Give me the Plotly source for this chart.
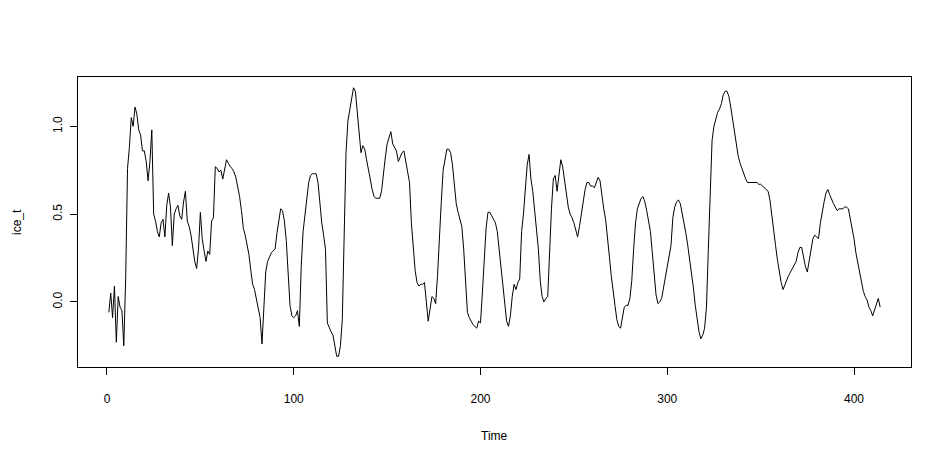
import plotly.graph_objects as go

time_index = list(range(1, 415))

ice_t = [
    -0.06, 0.05, -0.09, 0.09, -0.23, 0.03, -0.03, -0.05, -0.25, 0.13,
    0.76, 0.88, 1.05, 1.00, 1.11, 1.07, 0.98, 0.95, 0.86, 0.86,
    0.80, 0.69, 0.80, 0.98, 0.50, 0.46, 0.40, 0.37, 0.45, 0.47,
    0.37, 0.55, 0.62, 0.54, 0.32, 0.50, 0.53, 0.55, 0.49, 0.47,
    0.57, 0.63, 0.46, 0.43, 0.38, 0.30, 0.23, 0.19, 0.30, 0.51,
    0.36, 0.29, 0.23, 0.29, 0.27, 0.46, 0.48, 0.77, 0.76, 0.74,
    0.75, 0.70, 0.76, 0.81, 0.79, 0.77, 0.76, 0.74, 0.71, 0.66,
    0.60, 0.52, 0.42, 0.38, 0.32, 0.27, 0.18, 0.10, 0.07, 0.02,
    -0.05, -0.09, -0.24, 0.00, 0.17, 0.23, 0.26, 0.28, 0.29, 0.30,
    0.39, 0.46, 0.53, 0.52, 0.46, 0.35, 0.18, -0.02, -0.08, -0.09,
    -0.08, -0.05, -0.14, 0.20, 0.40, 0.50, 0.62, 0.68, 0.72, 0.73,
    0.73, 0.73, 0.68, 0.55, 0.45, 0.38, 0.30, -0.12, -0.15, -0.17,
    -0.19, -0.24, -0.31, -0.31, -0.25, -0.10, 0.30, 0.85, 1.03, 1.10,
    1.16, 1.22, 1.20, 1.07, 0.94, 0.85, 0.89, 0.87, 0.81, 0.75,
    0.70, 0.64, 0.60, 0.59, 0.59, 0.59, 0.63, 0.74, 0.82, 0.90,
    0.94, 0.97, 0.90, 0.88, 0.86, 0.80, 0.83, 0.85, 0.86, 0.80,
    0.74, 0.68, 0.45, 0.30, 0.18, 0.11, 0.09, 0.10, 0.10, 0.11,
    -0.02, -0.11, -0.04, 0.03, 0.02, -0.01, 0.15, 0.40, 0.57, 0.75,
    0.82, 0.87, 0.87, 0.85, 0.78, 0.67, 0.56, 0.51, 0.47, 0.43,
    0.30, 0.10, -0.06, -0.09, -0.11, -0.13, -0.14, -0.15, -0.11, -0.12,
    0.05, 0.25, 0.42, 0.51, 0.51, 0.49, 0.47, 0.45, 0.40, 0.30,
    0.18, 0.07, -0.03, -0.11, -0.14, -0.08, 0.03, 0.10, 0.07, 0.11,
    0.13, 0.40, 0.50, 0.65, 0.78, 0.84, 0.70, 0.63, 0.53, 0.42,
    0.30, 0.12, 0.03, 0.00, 0.02, 0.03, 0.30, 0.53, 0.70, 0.72,
    0.63, 0.74, 0.81, 0.77, 0.69, 0.60, 0.54, 0.50, 0.48, 0.45,
    0.41, 0.37, 0.43, 0.51, 0.58, 0.64, 0.68, 0.68, 0.66, 0.66,
    0.65, 0.68, 0.71, 0.69, 0.60, 0.53, 0.47, 0.38, 0.26, 0.15,
    0.05, -0.02, -0.10, -0.14, -0.15, -0.08, -0.03, -0.02, -0.02, 0.02,
    0.12, 0.30, 0.45, 0.53, 0.56, 0.59, 0.60, 0.57, 0.52, 0.47,
    0.40, 0.28, 0.15, 0.04, -0.01, 0.00, 0.02, 0.08, 0.15, 0.21,
    0.25, 0.32, 0.48, 0.54, 0.57, 0.58, 0.56, 0.51, 0.45, 0.39,
    0.32, 0.24, 0.18, 0.08, -0.02, -0.10, -0.17, -0.21, -0.19, -0.15,
    -0.03, 0.30, 0.60, 0.92, 1.00, 1.05, 1.08, 1.10, 1.13, 1.18,
    1.20, 1.20, 1.17, 1.11, 1.04, 0.97, 0.90, 0.83, 0.79, 0.76,
    0.72, 0.70, 0.68, 0.68, 0.68, 0.68, 0.68, 0.68, 0.67, 0.67,
    0.66, 0.65, 0.64, 0.63, 0.58, 0.48, 0.40, 0.32, 0.24, 0.16,
    0.11, 0.07, 0.10, 0.12, 0.15, 0.17, 0.19, 0.21, 0.23, 0.28,
    0.31, 0.31, 0.25, 0.20, 0.17, 0.24, 0.31, 0.36, 0.38, 0.37,
    0.36, 0.45, 0.52, 0.57, 0.62, 0.64, 0.61, 0.58, 0.56, 0.54,
    0.52, 0.53, 0.53, 0.53, 0.54, 0.54, 0.53, 0.48, 0.42, 0.36,
    0.28, 0.22, 0.17, 0.11, 0.06, 0.03, 0.01, -0.03, -0.05, -0.08,
    -0.05, -0.02, 0.02, -0.03,
]

x_ticks = [0, 100, 200, 300, 400]
y_ticks = [0.0, 0.5, 1.0]
x_title = "Time"
y_title = "ice_t"

n = len(ice_t)
ymin, ymax = min(ice_t), max(ice_t)
xpad = (time_index[-1] - time_index[0]) * 0.04
ypad = (ymax - ymin) * 0.04

FONT = "Liberation Sans, Arial, Helvetica, sans-serif"

fig = go.Figure()
fig.add_trace(go.Scatter(
    x=time_index[:n], y=ice_t, mode="lines",
    line=dict(color="black", width=1), hoverinfo="skip", showlegend=False,
))

fig.update_layout(
    width=952, height=464,
    margin=dict(l=70, r=49, t=69, b=105),
    paper_bgcolor="white", plot_bgcolor="white",
    font=dict(family=FONT, size=12, color="black"),
    showlegend=False,
    xaxis=dict(
        range=[time_index[0] - xpad, time_index[-1] + xpad],
        tickvals=x_ticks, ticktext=[str(v) for v in x_ticks],
        ticks="outside", ticklen=7, tickwidth=1, tickcolor="black",
        showline=True, linecolor="black", linewidth=1, mirror=True,
        showgrid=False, zeroline=False, ticklabelstandoff=14,
    ),
    yaxis=dict(
        range=[ymin - ypad, ymax + ypad],
        tickvals=y_ticks, ticktext=[f"{v:.1f}" for v in y_ticks],
        tickangle=-90,
        ticks="outside", ticklen=7, tickwidth=1, tickcolor="black",
        showline=True, linecolor="black", linewidth=1, mirror=True,
        showgrid=False, zeroline=False, ticklabelstandoff=3,
    ),
    annotations=[
        dict(text=x_title, xref="paper", yref="paper", x=0.5, y=0,
             xanchor="center", yanchor="middle", yshift=-69,
             showarrow=False, font=dict(family=FONT, size=12)),
        dict(text=y_title, xref="paper", yref="paper", x=0, y=0.5,
             xanchor="center", yanchor="middle", xshift=-61, textangle=-90,
             showarrow=False, font=dict(family=FONT, size=12)),
    ],
)

fig.write_html("out.html")
